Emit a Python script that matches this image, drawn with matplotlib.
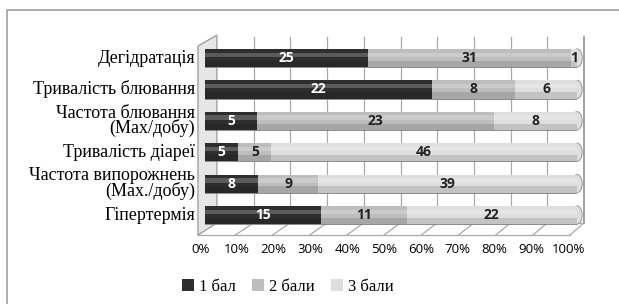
import numpy as np
import matplotlib.pyplot as plt
from matplotlib.patches import Rectangle, Polygon, Ellipse

# data (counts per score)
categories = ['Дегідратація', 'Тривалість блювання', 'Частота блювання\n(Мах/добу)',
              'Тривалість діареї', 'Частота випорожнень\n(Мах./добу)', 'Гіпертермія']
bal1 = [25, 22, 5, 5, 8, 15]
bal2 = [31, 8, 23, 5, 9, 11]
bal3 = [1, 6, 8, 46, 39, 22]
series_names = ['1 бал', '2 бали', '3 бали']
xticklabels = ['0%', '10%', '20%', '30%', '40%', '50%', '60%', '70%', '80%', '90%', '100%']

colors = ['#2e2e2e', '#bdbdbd', '#dedede']
txt_colors = ['white', '#222222', '#222222']

plt.rcParams['font.family'] = ['Liberation Serif', 'DejaVu Serif']

counts = np.array([bal1, bal2, bal3], dtype=float)
share = counts / counts.sum(axis=0) * 100

fig = plt.figure(figsize=(6.19, 3.04), dpi=100)
fig.patches.append(Rectangle((7 / 619, -0.1), 1.1, 1.1 - 10 / 304, transform=fig.transFigure,
                             fill=False, edgecolor='#a0a0a0', lw=1.2))

ax = fig.add_axes([0.3312, 0.2204, 0.601, 0.6714])
ax.set_xlim(0, 100)
ax.set_ylim(5.7, -0.8)
ax.axis('off')

# pseudo 3d frame: front floor edge, back wall, left wall
def front(p):
    return -1.9 + p

def back(p):
    return 3.2 + p * 0.987

y_front, y_back, y_top = 5.64, 5.25, -0.68
grid_c = '#a9a9a9'
for p in range(10, 101, 10):
    ax.plot([back(p), back(p)], [y_back, y_top], color=grid_c if p < 100 else '#909090',
            lw=0.9 if p < 100 else 1.2, zorder=1, clip_on=False)
for p in range(10, 101, 10):
    ax.plot([front(p), back(p)], [y_front, y_back], color=grid_c, lw=0.9, zorder=1, clip_on=False)
ax.plot([front(0), front(100)], [y_front, y_front], color=grid_c, lw=0.9, zorder=1, clip_on=False)
ax.plot([back(0), back(100)], [y_back, y_back], color=grid_c, lw=0.9, zorder=1, clip_on=False)
ax.add_patch(Polygon([[front(0), y_front], [front(0), -0.38], [back(0), y_top - 0.05], [back(0), y_back]],
                     closed=True, facecolor='#e6e6e6', edgecolor='#9a9a9a', lw=0.9, zorder=2,
                     clip_on=False))

# bars (cylinder look: base colour + soft highlight + soft shadow)
y = np.arange(len(categories))
h = 0.58
totals = share.sum(axis=0)
for i in range(len(categories)):
    ax.add_patch(Ellipse((totals[i], y[i]), 2.8, h, facecolor=colors[2], edgecolor='#8a8a8a',
                         lw=0.6, zorder=2.9, clip_on=False))

left = np.zeros(len(categories))
for k in range(3):
    ax.barh(y, share[k], left=left, height=h, color=colors[k],
            edgecolor='none', label=series_names[k], zorder=3)
    ax.barh(y - 0.1, share[k], left=left, height=0.14, color='white', alpha=0.22,
            edgecolor='none', zorder=3.1)
    ax.barh(y + 0.19, share[k], left=left, height=0.2, color='black', alpha=0.12,
            edgecolor='none', zorder=3.1)
    left += share[k]

for i in range(len(categories)):
    ax.plot([0, totals[i]], [y[i] + h / 2, y[i] + h / 2], color='#7a7a7a', lw=0.6, zorder=3.2)

left = np.zeros(len(categories))
for k in range(3):
    for i in range(len(categories)):
        ax.text(left[i] + share[k][i] / 2, y[i], str(int(counts[k][i])),
                ha='center', va='center', fontsize=10, fontweight='bold',
                color=txt_colors[k], family='Open Sans', zorder=4)
    left += share[k]

# category labels and percent axis
for i, c in enumerate(categories):
    ax.text(-2.7, y[i], c, ha='right', va='center', fontsize=13, linespacing=0.82)
for j, lab in enumerate(xticklabels):
    p = j * 10
    ax.text(-1.3 + p * 0.989, 6.1, lab, ha='center', va='center', fontsize=9.5, family='Open Sans')

leg = fig.legend(loc='lower left', bbox_to_anchor=(0.27, -0.02), ncol=3, frameon=False,
                 prop={'size': 12}, handlelength=0.7,
                 handleheight=0.7, handletextpad=0.3, columnspacing=1.0)

fig.savefig('out.png', dpi=100)
